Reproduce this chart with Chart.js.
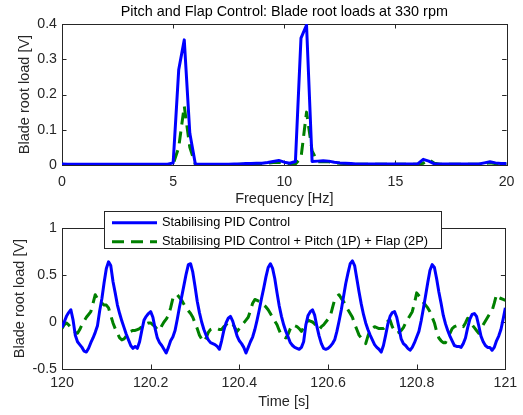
<!DOCTYPE html>
<html>
<head>
<meta charset="utf-8">
<script src="https://cdn.jsdelivr.net/npm/chart.js@4.4.1/dist/chart.umd.min.js"></script>
<style>
  body { margin: 0; background: #fff; }
  #fig { position: relative; width: 523px; height: 415px; background: #fff; }
  #fig canvas { position: absolute; left: 0; }
  #spectrum { top: 0; }
  #timeTrace { top: 210px; }
</style>
</head>
<body>
<div id="fig">
  <canvas id="spectrum" width="523" height="210"></canvas>
  <canvas id="timeTrace" width="523" height="205"></canvas>
</div>
<script>
// Spectrum: frequency bins every 0.25 Hz, 0..20 Hz
const freqStep = 0.25;
const freq = Array.from({ length: 81 }, (_, i) => i * freqStep);
const specPID = [
  0.003, 0.002, 0.002, 0.002, 0.002, 0.002, 0.002, 0.002, 0.002, 0.002,
  0.002, 0.002, 0.002, 0.002, 0.002, 0.002, 0.002, 0.002, 0.002, 0.002,
  0.006, 0.27, 0.355, 0.09, 0.002, 0.002, 0.002, 0.002, 0.002, 0.002,
  0.002, 0.003, 0.003, 0.004, 0.004, 0.005, 0.005, 0.007, 0.01, 0.013,
  0.008, 0.005, 0.01, 0.36, 0.397, 0.01, 0.011, 0.012, 0.011, 0.008,
  0.006, 0.005, 0.004, 0.003, 0.003, 0.003, 0.003, 0.003, 0.003, 0.003,
  0.003, 0.003, 0.003, 0.003, 0.003, 0.016, 0.011, 0.003, 0.003, 0.003,
  0.003, 0.003, 0.003, 0.003, 0.003, 0.003, 0.006, 0.009, 0.006, 0.004,
  0.004
];
const specPitchFlap = [
  0.002, 0.001, 0.001, 0.001, 0.001, 0.001, 0.001, 0.001, 0.001, 0.001,
  0.001, 0.001, 0.001, 0.001, 0.001, 0.001, 0.001, 0.001, 0.001, 0.001,
  0.002, 0.05, 0.167, 0.05, 0.001, 0.001, 0.001, 0.001, 0.001, 0.001,
  0.001, 0.001, 0.002, 0.002, 0.003, 0.003, 0.004, 0.005, 0.007, 0.008,
  0.005, 0.003, 0.003, 0.02, 0.15, 0.04, 0.009, 0.01, 0.009, 0.007,
  0.005, 0.004, 0.003, 0.002, 0.002, 0.002, 0.002, 0.002, 0.002, 0.002,
  0.002, 0.002, 0.002, 0.002, 0.002, 0.005, 0.015, 0.005, 0.002, 0.002,
  0.002, 0.002, 0.002, 0.002, 0.002, 0.002, 0.004, 0.006, 0.004, 0.003,
  0.002
];

// Time trace: samples every 5 ms, 120..121 s
const tStart = 120, tStep = 0.005;
const time = Array.from({ length: 201 }, (_, i) => +(tStart + i * tStep).toFixed(3));
const loadPID = [
  -0.06, 0.00, 0.06, 0.10, 0.13, 0.02, -0.14, -0.21, -0.24, -0.27,
  -0.31, -0.32, -0.28, -0.22, -0.17, -0.11, -0.04, 0.12, 0.25, 0.42,
  0.57, 0.64, 0.60, 0.43, 0.31, 0.18, 0.09, 0.01, -0.06, -0.13,
  -0.19, -0.25, -0.28, -0.26, -0.28, -0.21, -0.09, 0.02, 0.06, 0.09,
  0.11, 0.05, -0.07, -0.17, -0.22, -0.25, -0.29, -0.33, -0.27, -0.20,
  -0.16, -0.09, 0.03, 0.16, 0.27, 0.39, 0.51, 0.61, 0.62, 0.53,
  0.38, 0.22, 0.10, 0.00, -0.08, -0.14, -0.19, -0.22, -0.23, -0.24,
  -0.26, -0.29, -0.20, -0.09, -0.01, 0.04, 0.06, 0.01, -0.07, -0.15,
  -0.20, -0.23, -0.27, -0.33, -0.27, -0.21, -0.16, -0.08, 0.02, 0.13,
  0.25, 0.36, 0.48, 0.58, 0.62, 0.57, 0.46, 0.31, 0.17, 0.06,
  -0.03, -0.10, -0.16, -0.22, -0.25, -0.27, -0.28, -0.29, -0.27, -0.21,
  -0.03, 0.07, 0.11, 0.13, 0.07, -0.05, -0.15, -0.23, -0.28, -0.29,
  -0.28, -0.26, -0.23, -0.19, -0.10, 0.01, 0.13, 0.27, 0.41, 0.52,
  0.62, 0.65, 0.60, 0.46, 0.32, 0.19, 0.08, -0.01, -0.08, -0.14,
  -0.19, -0.24, -0.27, -0.29, -0.32, -0.25, -0.14, -0.02, 0.06, 0.10,
  0.11, 0.05, -0.06, -0.18, -0.23, -0.25, -0.28, -0.30, -0.27, -0.22,
  -0.16, -0.10, 0.01, 0.14, 0.28, 0.42, 0.55, 0.61, 0.58, 0.46,
  0.32, 0.20, 0.07, -0.02, -0.09, -0.15, -0.20, -0.25, -0.26, -0.26,
  -0.27, -0.23, -0.17, -0.06, 0.03, 0.08, 0.09, 0.06, -0.04, -0.15,
  -0.21, -0.25, -0.27, -0.27, -0.30, -0.27, -0.20, -0.15, -0.08, 0.03,
  0.15
];
const loadPitchFlap = [
  -0.07, -0.03, -0.01, -0.03, -0.06, -0.09, -0.11, -0.12, -0.08, -0.03,
  0.01, 0.05, 0.08, 0.11, 0.20, 0.29, 0.25, 0.22, 0.20, 0.18,
  0.18, 0.15, 0.07, -0.01, -0.07, -0.12, -0.17, -0.19, -0.18, -0.15,
  -0.11, -0.10, -0.09, -0.09, -0.08, -0.07, -0.05, -0.03, -0.02, -0.01,
  -0.01, -0.03, -0.05, -0.08, -0.09, -0.04, 0.00, 0.03, 0.07, 0.15,
  0.25, 0.29, 0.29, 0.26, 0.23, 0.19, 0.15, 0.12, 0.09, 0.05,
  -0.01, -0.07, -0.14, -0.18, -0.21, -0.17, -0.11, -0.08, -0.07, -0.07,
  -0.07, -0.08, -0.08, -0.05, -0.03, 0.00, -0.01, -0.02, -0.06, -0.10,
  -0.07, -0.04, -0.01, 0.02, 0.05, 0.12, 0.20, 0.24, 0.23, 0.22,
  0.20, 0.18, 0.16, 0.13, 0.09, 0.05, 0.01, -0.03, -0.09, -0.14,
  -0.16, -0.17, -0.13, -0.07, -0.03, -0.04, -0.05, -0.07, -0.10, -0.06,
  -0.02, 0.02, 0.01, 0.00, -0.02, -0.06, -0.08, -0.05, -0.03, 0.00,
  0.03, 0.06, 0.15, 0.24, 0.27, 0.29, 0.25, 0.22, 0.17, 0.13,
  0.09, 0.05, -0.02, -0.08, -0.14, -0.17, -0.20, -0.23, -0.15, -0.09,
  -0.07, -0.05, -0.06, -0.07, -0.07, -0.07, -0.05, 0.01, 0.02, -0.05,
  -0.09, -0.12, -0.11, -0.09, -0.06, -0.01, 0.03, 0.07, 0.11, 0.20,
  0.31, 0.28, 0.25, 0.21, 0.18, 0.15, 0.11, 0.05, -0.01, -0.10,
  -0.17, -0.20, -0.22, -0.22, -0.16, -0.12, -0.07, -0.05, -0.04, -0.03,
  -0.04, -0.05, -0.01, 0.04, 0.01, -0.03, -0.06, -0.09, -0.12, -0.07,
  -0.03, 0.01, 0.05, 0.09, 0.12, 0.20, 0.29, 0.26, 0.25, 0.24,
  0.23
];

const labelPID = 'Stabilising PID Control';
const labelPitchFlap = 'Stabilising PID Control + Pitch (1P) + Flap (2P)';
const spectrumTitle = 'Pitch and Flap Control: Blade root loads at 330 rpm';

const axisColor = '#262626';
const fontFamily = '"Liberation Sans", Arial, Helvetica, sans-serif';
const tickLen = 4.5;

Chart.defaults.font.family = fontFamily;
Chart.defaults.color = axisColor;

// MATLAB-like box with inward ticks on all four sides
const matlabBox = {
  id: 'matlabBox',
  beforeDatasetsDraw(chart) {
    const { ctx, chartArea: a, scales } = chart;
    ctx.save();
    ctx.strokeStyle = axisColor;
    ctx.lineWidth = 1;
    ctx.beginPath();
    scales.x.ticks.forEach(t => {
      const px = Math.round(scales.x.getPixelForValue(t.value)) + 0.5;
      ctx.moveTo(px, a.bottom); ctx.lineTo(px, a.bottom - tickLen);
      ctx.moveTo(px, a.top); ctx.lineTo(px, a.top + tickLen);
    });
    scales.y.ticks.forEach(t => {
      const py = Math.round(scales.y.getPixelForValue(t.value)) + 0.5;
      ctx.moveTo(a.left, py); ctx.lineTo(a.left + tickLen, py);
      ctx.moveTo(a.right, py); ctx.lineTo(a.right - tickLen, py);
    });
    ctx.stroke();
    ctx.strokeRect(Math.round(a.left) + 0.5, Math.round(a.top) + 0.5,
                   Math.round(a.width), Math.round(a.height));
    ctx.restore();
  }
};

// title centred over the axes box (not the whole canvas)
const axesTitle = {
  id: 'axesTitle',
  afterDraw(chart, args, opts) {
    const { ctx, chartArea: a } = chart;
    ctx.save();
    ctx.font = '14.4px ' + fontFamily;
    ctx.fillStyle = '#000';
    ctx.textAlign = 'center';
    ctx.textBaseline = 'middle';
    ctx.fillText(opts.text, (a.left + a.right) / 2, 12.1);
    ctx.restore();
  }
};

// boxed legend sitting over the top edge of the lower axes
const boxLegend = {
  id: 'boxLegend',
  afterDraw(chart) {
    const ctx = chart.ctx;
    const x0 = 104, y0 = 1, w = 337, h = 37;
    ctx.save();
    ctx.fillStyle = '#fff';
    ctx.fillRect(x0, y0, w, h);
    ctx.strokeStyle = axisColor;
    ctx.lineWidth = 1;
    ctx.strokeRect(x0 + 0.5, y0 + 0.5, w, h);
    ctx.font = '12.8px ' + fontFamily;
    ctx.textBaseline = 'middle';
    chart.data.datasets.forEach((ds, i) => {
      const y = y0 + 11.7 + i * 19;
      ctx.strokeStyle = ds.borderColor;
      ctx.lineWidth = ds.borderWidth;
      ctx.setLineDash(ds.borderDash || []);
      ctx.beginPath();
      ctx.moveTo(x0 + 8, y);
      ctx.lineTo(x0 + 53, y);
      ctx.stroke();
      ctx.setLineDash([]);
      ctx.fillStyle = '#000';
      ctx.fillText(ds.label, x0 + 58, y);
    });
    ctx.restore();
  }
};

function series(xs, ys) {
  return xs.map((x, i) => ({ x: x, y: ys[i] }));
}

// plain MATLAB style tick text: 120, 120.2, 0.5, -0.5, 1
function tickText(v) {
  return String(Math.round(v * 1000) / 1000);
}

function axis(min, max, step, title, opts) {
  return {
    type: 'linear',
    min: min,
    max: max,
    grid: { display: false, drawTicks: false },
    border: { display: false },
    ticks: { stepSize: step, padding: opts.tickPad, font: { size: 14.2 },
             color: axisColor, callback: tickText },
    title: {
      display: true,
      text: title,
      font: { size: 14.5 },
      color: axisColor,
      padding: opts.titlePad
    },
    afterFit: opts.fit
  };
}

const commonLine = { pointRadius: 0, tension: 0, borderJoinStyle: 'round', fill: false };

new Chart(document.getElementById('spectrum'), {
  type: 'line',
  data: {
    datasets: [
      Object.assign({ label: labelPID, data: series(freq, specPID),
        borderColor: '#0000ff', borderWidth: 3 }, commonLine),
      Object.assign({ label: labelPitchFlap, data: series(freq, specPitchFlap),
        borderColor: '#008000', borderWidth: 3, borderDash: [12, 7] }, commonLine)
    ]
  },
  options: {
    responsive: false,
    animation: false,
    events: [],
    layout: { padding: { top: 24, right: 15, left: 0, bottom: 0 } },
    scales: {
      x: axis(0, 20, 5, 'Frequency [Hz]', {
        tickPad: 8.5, titlePad: { top: 0, bottom: 2.8 },
        fit: s => { s.height = 45; }
      }),
      y: axis(0, 0.4, 0.1, 'Blade root load [V]', {
        tickPad: 5, titlePad: { top: 16.3, bottom: 0 },
        fit: s => { s.width = 62; }
      })
    },
    plugins: {
      legend: { display: false },
      tooltip: { enabled: false },
      axesTitle: { text: spectrumTitle }
    }
  },
  plugins: [matlabBox, axesTitle]
});

new Chart(document.getElementById('timeTrace'), {
  type: 'line',
  data: {
    datasets: [
      Object.assign({ label: labelPID, data: series(time, loadPID),
        borderColor: '#0000ff', borderWidth: 3 }, commonLine),
      Object.assign({ label: labelPitchFlap, data: series(time, loadPitchFlap),
        borderColor: '#008000', borderWidth: 3, borderDash: [12, 7] }, commonLine)
    ]
  },
  options: {
    responsive: false,
    animation: false,
    events: [],
    layout: { padding: { top: 18, right: 15, left: 0, bottom: 0 } },
    scales: {
      x: axis(120, 121, 0.2, 'Time [s]', {
        tickPad: 5.8, titlePad: { top: 0, bottom: 4.3 },
        fit: s => { s.height = 46; }
      }),
      y: axis(-0.5, 1, 0.5, 'Blade root load [V]', {
        tickPad: 5, titlePad: { top: 10.8, bottom: 0 },
        fit: s => { s.width = 62; }
      })
    },
    plugins: {
      legend: { display: false },
      tooltip: { enabled: false }
    }
  },
  plugins: [matlabBox, boxLegend]
});
</script>
</body>
</html>
